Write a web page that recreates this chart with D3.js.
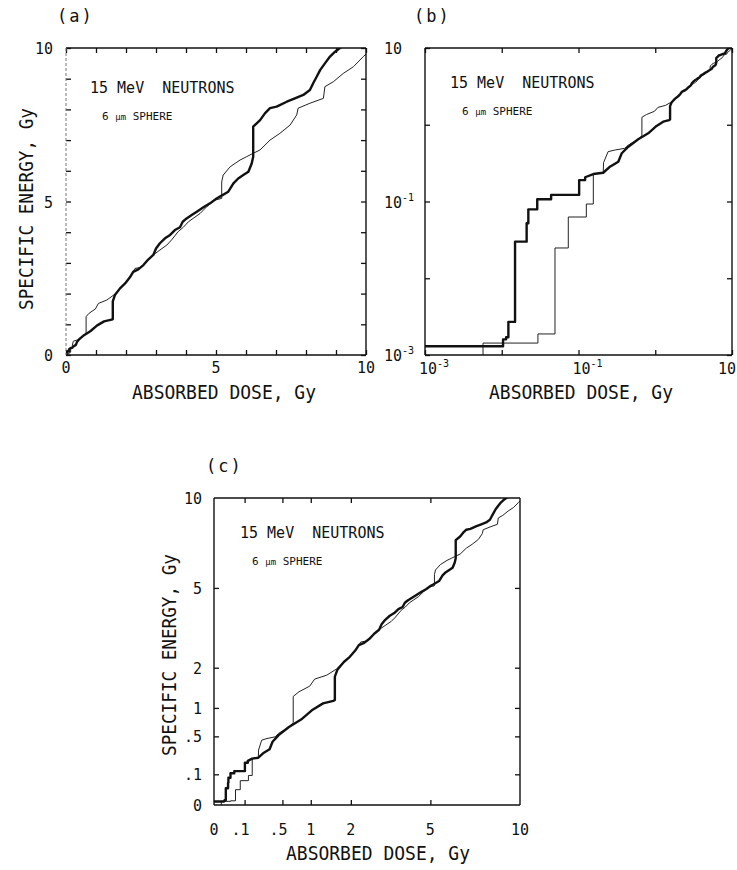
<!DOCTYPE html>
<html lang="en">
<head>
  <meta charset="utf-8" />
  <title>15 MeV neutrons, 6 um sphere</title>
  <script src="https://d3js.org/d3.v7.min.js"></script>
  <style>
    body { margin: 0; background: #fff; }
    svg text { font-family: "DejaVu Sans Mono", monospace; fill: #111; }
  </style>
</head>
<body>
<script>
// specific energy z (Gy) against absorbed dose D (Gy), [D, z]
var thickCurve = [
  [0, 0.0013], [0.0104, 0.0013], [0.0104, 0.0016], [0.0114, 0.0016], [0.0114, 0.0017],
  [0.0122, 0.0017], [0.0122, 0.0027], [0.0149, 0.0027], [0.0149, 0.030], [0.0211, 0.030],
  [0.0211, 0.052], [0.0222, 0.052], [0.0222, 0.079], [0.029, 0.079], [0.029, 0.107],
  [0.044, 0.107], [0.044, 0.122], [0.102, 0.122], [0.102, 0.19], [0.122, 0.19],
  [0.122, 0.207], [0.156, 0.228], [0.21, 0.237], [0.257, 0.284], [0.33, 0.33],
  [0.366, 0.425], [0.446, 0.518], [0.6, 0.646], [0.81, 0.774], [1.04, 0.964],
  [1.27, 1.096], [1.52, 1.15], [1.56, 1.17], [1.56, 1.75], [1.63, 1.95],
  [1.8, 2.17], [1.97, 2.33], [2.13, 2.53], [2.24, 2.71], [2.41, 2.79],
  [2.58, 2.93], [2.74, 3.11], [2.91, 3.26], [3.0, 3.47], [3.13, 3.64],
  [3.3, 3.8], [3.47, 3.91], [3.63, 4.07], [3.8, 4.16], [3.89, 4.34],
  [4.02, 4.45], [4.19, 4.56], [4.36, 4.67], [4.58, 4.81], [4.8, 4.94],
  [5.02, 5.1], [5.13, 5.16], [5.41, 5.32], [5.58, 5.59], [5.74, 5.75],
  [5.91, 5.86], [6.08, 5.97], [6.19, 6.24], [6.24, 6.46], [6.24, 7.44],
  [6.47, 7.65], [6.63, 7.87], [6.8, 8.04], [7.02, 8.09], [7.36, 8.25],
  [7.63, 8.36], [7.91, 8.47], [8.13, 8.63], [8.24, 8.85], [8.36, 9.07],
  [8.47, 9.28], [8.63, 9.5], [8.8, 9.72], [8.97, 9.88], [9.13, 10.0], [9.3, 10.1]
];

var thinCurve = [
  [0.0057, 0], [0.0057, 0.00143], [0.0296, 0.00143], [0.0296, 0.00188], [0.0494, 0.00188],
  [0.0494, 0.0248], [0.0736, 0.0248], [0.0736, 0.0628], [0.1265, 0.0628], [0.1265, 0.0927],
  [0.156, 0.0927], [0.156, 0.228], [0.21, 0.237], [0.212, 0.32], [0.243, 0.446],
  [0.30, 0.469], [0.40, 0.493], [0.446, 0.544], [0.6, 0.646], [0.67, 0.72],
  [0.67, 1.25], [0.77, 1.36], [0.98, 1.5], [1.08, 1.68], [1.36, 1.79],
  [1.6, 1.96], [1.8, 2.17], [1.97, 2.33], [2.13, 2.53], [2.3, 2.82],
  [2.52, 2.86], [2.74, 3.11], [2.91, 3.26], [3.13, 3.42], [3.36, 3.58],
  [3.52, 3.75], [3.74, 4.02], [3.91, 4.16], [4.08, 4.34], [4.24, 4.45],
  [4.47, 4.61], [4.69, 4.83], [4.97, 5.05], [5.19, 5.1], [5.19, 5.64],
  [5.24, 5.86], [5.47, 6.13], [5.8, 6.35], [6.02, 6.46], [6.24, 6.57],
  [6.47, 6.68], [6.8, 7.0], [7.13, 7.22], [7.47, 7.49], [7.69, 7.82],
  [7.74, 8.04], [8.13, 8.2], [8.58, 8.36], [8.63, 8.74], [8.91, 8.9],
  [9.24, 9.17], [9.58, 9.39], [9.91, 9.72], [10, 9.8]
];

// ticks and tick labels
var linearTicks = [0, 1, 2, 3, 4, 5, 6, 7, 8, 9, 10];
var linearLabels = [0, 5, 10];
var logTicks = [1e-3, 1e-2, 1e-1, 1, 10];
var logLabels = [1e-3, 1e-1, 10];
var sqrtTicks = [0.1, 0.5, 1, 2, 5];
var sqrtLabelValues = [0, 0.1, 0.5, 1, 2, 5, 10];
var sqrtLabelText = ["0", ".1", ".5", "1", "2", "5", "10"];

var xTitle = "ABSORBED DOSE, Gy";
var yTitle = "SPECIFIC ENERGY, Gy";

var width = 737, height = 870;

var panels = [
  {id: "a", kind: "linear", left: 66, top: 48, w: 300, h: 307, letter: "(a)", letterPos: [57, 22],
   yTitleAt: [33, 209], xTitleAt: [224, 399], xLabY: 18, yLabX: -13, note: [24, 45], faintLeft: true},
  {id: "b", kind: "log", left: 425, top: 48, w: 307, h: 307, letter: "(b)", letterPos: [414, 22],
   yTitleAt: null, xTitleAt: [581, 399], xLabY: 19, yLabX: -41, note: [25, 40], faintLeft: false},
  {id: "c", kind: "sqrt", left: 214, top: 498, w: 306, h: 307, letter: "(c)", letterPos: [206, 472],
   yTitleAt: [176, 655], xTitleAt: [378, 860], xLabY: 30, yLabX: -12, note: [26, 40], faintLeft: false}
];

function makeScale(kind, range) {
  if (kind === "log") return d3.scaleLog().domain([1e-3, 10]).range(range);
  if (kind === "sqrt") return d3.scaleSqrt().domain([0, 10]).range(range);
  return d3.scaleLinear().domain([0, 10]).range(range);
}

var svg = d3.select("body").append("svg")
  .attr("width", width)
  .attr("height", height);

function logLabel(sel, v) {
  var e = Math.round(Math.log10(v));
  sel.append("tspan").text("10");
  if (v !== 10) {
    sel.append("tspan").attr("dy", -7).style("font-size", "10px").text(String(e));
  }
}

panels.forEach(function(p) {
  var g = svg.append("g").attr("transform", "translate(" + p.left + "," + p.top + ")");
  var x = makeScale(p.kind, [0, p.w]);
  var y = makeScale(p.kind, [p.h, 0]);
  var ticks = p.kind === "log" ? logTicks : (p.kind === "sqrt" ? sqrtTicks : linearTicks);
  var lo = p.kind === "log" ? 1e-3 : 0;

  g.append("clipPath").attr("id", "clip-" + p.id)
    .append("rect").attr("width", p.w).attr("height", p.h);

  var line = d3.line()
    .x(function(d) { return x(Math.max(d[0], lo)); })
    .y(function(d) { return y(Math.max(d[1], lo)); });

  g.append("path").datum(thinCurve)
    .attr("clip-path", "url(#clip-" + p.id + ")")
    .attr("d", line)
    .attr("fill", "none").attr("stroke", "#222").attr("stroke-width", 1)
    .attr("stroke-linejoin", "round");

  g.append("path").datum(thickCurve)
    .attr("clip-path", "url(#clip-" + p.id + ")")
    .attr("d", line)
    .attr("fill", "none").attr("stroke", "#111").attr("stroke-width", 2.4)
    .attr("stroke-linejoin", "round");

  // inward ticks on all four sides
  var axes = [
    [d3.axisBottom(x), "translate(0," + p.h + ")"],
    [d3.axisTop(x), "translate(0,0)"],
    [d3.axisLeft(y), "translate(0,0)"],
    [d3.axisRight(y), "translate(" + p.w + ",0)"]
  ];
  axes.forEach(function(a) {
    var ax = g.append("g").attr("transform", a[1])
      .call(a[0].tickValues(ticks).tickSizeInner(-5).tickSizeOuter(0).tickFormat(""));
    ax.select(".domain").remove();
    ax.selectAll("line").attr("stroke", "#111").attr("stroke-width", 1.3);
  });

  // frame
  var frame = [
    [0, 0, p.w, 0], [p.w, 0, p.w, p.h], [0, p.h, p.w, p.h], [0, 0, 0, p.h]
  ];
  frame.forEach(function(f, i) {
    var l = g.append("line")
      .attr("x1", f[0]).attr("y1", f[1]).attr("x2", f[2]).attr("y2", f[3])
      .attr("stroke", "#111").attr("stroke-width", 1.4);
    if (i === 3 && p.faintLeft) {
      l.attr("stroke", "#777").attr("stroke-width", 1).attr("stroke-dasharray", "3 2");
    }
  });

  // tick labels
  if (p.kind === "linear") {
    linearLabels.forEach(function(v) {
      g.append("text").attr("x", x(v)).attr("y", p.h + p.xLabY)
        .attr("text-anchor", "middle").style("font-size", "15px").text(v);
      g.append("text").attr("x", p.yLabX).attr("y", y(v) + 6)
        .attr("text-anchor", "end").style("font-size", "15px").text(v);
    });
  } else if (p.kind === "log") {
    logLabels.forEach(function(v) {
      var dx = v === 10 ? -14 : -6;
      g.append("text").attr("x", x(v) + dx).attr("y", p.h + p.xLabY)
        .style("font-size", "15px").call(logLabel, v);
      g.append("text").attr("x", p.yLabX).attr("y", y(v) + 6)
        .style("font-size", "15px").call(logLabel, v);
    });
  } else {
    sqrtLabelValues.forEach(function(v, i) {
      var t = sqrtLabelText[i];
      var shift = t.charAt(0) === "." ? -4 : 0;
      g.append("text").attr("x", x(v) + shift).attr("y", p.h + p.xLabY)
        .attr("text-anchor", "middle").style("font-size", "15px").text(t);
      g.append("text").attr("x", p.yLabX).attr("y", y(v) + 6)
        .attr("text-anchor", "end").style("font-size", "15px").text(t);
    });
  }

  // annotation
  g.append("text").attr("x", p.note[0]).attr("y", p.note[1])
    .style("font-size", "15px").attr("xml:space", "preserve").text("15 MeV  NEUTRONS");
  var s = g.append("text").attr("x", p.note[0] + 12).attr("y", p.note[1] + 27)
    .style("font-size", "11px");
  s.append("tspan").text("6 ");
  s.append("tspan").style("font-size", "9px").text("\u03bcm");
  s.append("tspan").text(" SPHERE");

  // titles
  svg.append("text").attr("x", p.letterPos[0]).attr("y", p.letterPos[1])
    .style("font-size", "17px").style("letter-spacing", "2px").text(p.letter);

  svg.append("text").attr("x", p.xTitleAt[0]).attr("y", p.xTitleAt[1])
    .attr("text-anchor", "middle").style("font-size", "20px")
    .attr("textLength", 184).attr("lengthAdjust", "spacingAndGlyphs")
    .text(xTitle);

  if (p.yTitleAt) {
    svg.append("text")
      .attr("transform", "translate(" + p.yTitleAt[0] + "," + p.yTitleAt[1] + ") rotate(-90)")
      .attr("text-anchor", "middle").style("font-size", "20px")
      .attr("textLength", 202).attr("lengthAdjust", "spacingAndGlyphs")
      .text(yTitle);
  }
});
</script>
</body>
</html>
